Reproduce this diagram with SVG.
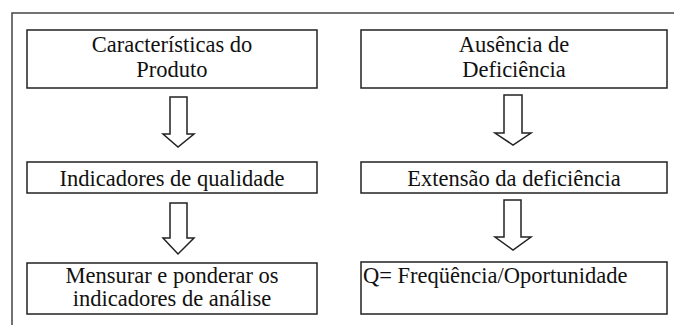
<svg xmlns="http://www.w3.org/2000/svg" width="674" height="325" viewBox="0 0 674 325">
<style>
.box{fill:#fff;stroke:#222;stroke-width:1.5}
.arr{fill:#fff;stroke:#222;stroke-width:1.5;stroke-linejoin:miter}
.frame{fill:none;stroke:#444;stroke-width:1.5}
text{font-family:"Liberation Serif","Times New Roman",serif;font-size:22.5px;fill:#111}
.c{text-anchor:middle}
</style>
<rect width="674" height="325" fill="#fff"/>
<path class="frame" d="M12,325 V13 H674"/>
<g id="n1"><rect class="box" x="27" y="30" width="290" height="58"/><text class="c" x="172" y="52">Características do</text><text class="c" x="172" y="77">Produto</text></g>
<g id="n2"><rect class="box" x="27" y="162" width="290" height="31"/><text class="c" x="172" y="186">Indicadores de qualidade</text></g>
<g id="n3"><rect class="box" x="27" y="263" width="290" height="51"/><text class="c" x="172" y="283">Mensurar e ponderar os</text><text class="c" x="172" y="306">indicadores de análise</text></g>
<g id="n4"><rect class="box" x="361" y="30" width="306" height="58"/><text class="c" x="514" y="52">Ausência de</text><text class="c" x="514" y="77">Deficiência</text></g>
<g id="n5"><rect class="box" x="361" y="162" width="306" height="31"/><text class="c" x="514" y="186">Extensão da deficiência</text></g>
<g id="n6"><rect class="box" x="361" y="262" width="306" height="52"/><text x="363" y="283">Q= Freqüência/Oportunidade</text></g>
<g id="connectors">
<polygon class="arr" points="170,97 187,97 187,134 194,134 178,147 163,134 170,134"/>
<polygon class="arr" points="504,95 522,95 522,133 531,133 513,145 495,133 504,133"/>
<polygon class="arr" points="170,203 187,203 187,238 194,238 178,254 163,238 170,238"/>
<polygon class="arr" points="504,200 521,200 521,237 531,237 513,250 495,237 504,237"/>
</g>
</svg>
